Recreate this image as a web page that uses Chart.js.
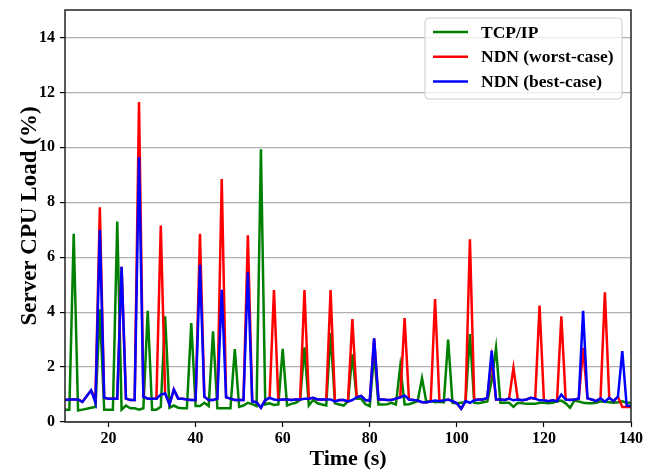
<!DOCTYPE html>
<html>
<head>
<meta charset="utf-8">
<script src="https://cdn.jsdelivr.net/npm/chart.js@4.4.1/dist/chart.umd.min.js"></script>
<style>
  html, body { margin: 0; padding: 0; background: #fff; }
  #wrap { width: 659px; height: 473px; }
</style>
</head>
<body>
<div id="wrap"><canvas id="c" width="659" height="473"></canvas></div>
<script>
const seriesLabels = ["TCP/IP", "NDN (worst-case)", "NDN (best-case)"];
const seriesColors = ["#008000", "#ff0000", "#0000ff"];
const xTicks = [20, 40, 60, 80, 100, 120, 140];
const yTicks = [0, 2, 4, 6, 8, 10, 12, 14];

const time = [10,11,12,13,14,15,16,17,18,19,20,21,22,23,24,25,26,27,28,29,
30,31,32,33,34,35,36,37,38,39,40,41,42,43,44,45,46,47,48,49,
50,51,52,53,54,55,56,57,58,59,60,61,62,63,64,65,66,67,68,69,
70,71,72,73,74,75,76,77,78,79,80,81,82,83,84,85,86,87,88,89,
90,91,92,93,94,95,96,97,98,99,100,101,102,103,104,105,106,107,108,109,
110,111,112,113,114,115,116,117,118,119,120,121,122,123,124,125,126,127,128,129,
130,131,132,133,134,135,136,137,138,139,140];

const tcpip = [0.45,0.45,6.85,0.42,0.45,0.48,0.52,0.55,4.1,0.45,0.45,0.45,7.3,0.45,0.6,0.5,0.5,0.45,0.5,4.05,
0.45,0.45,0.55,3.85,0.52,0.6,0.52,0.5,0.5,3.6,0.58,0.58,0.7,0.58,3.3,0.5,0.5,0.5,0.5,2.65,
0.55,0.6,0.7,0.65,0.58,9.93,0.64,0.68,0.62,0.64,2.66,0.6,0.66,0.7,0.8,2.72,0.6,0.8,0.68,0.64,
0.6,3.24,0.68,0.64,0.6,0.76,2.46,0.85,0.85,0.65,0.58,2.5,0.64,0.64,0.65,0.7,0.64,2.03,0.64,0.65,
0.7,0.76,1.6,0.72,0.78,0.72,0.74,0.72,3.0,0.7,0.68,0.7,0.72,3.2,0.7,0.68,0.72,0.75,1.5,2.7,
0.7,0.7,0.7,0.55,0.7,0.68,0.66,0.66,0.66,0.7,0.7,0.68,0.7,0.75,0.78,0.68,0.52,0.78,0.75,0.7,
0.68,0.68,0.7,0.75,0.74,0.72,0.7,0.72,0.75,0.7,0.7];

const ndnWorst = [0.8,0.82,0.82,0.82,0.73,0.95,1.15,0.85,7.82,0.88,0.85,0.85,0.85,5.65,0.85,0.8,0.8,11.65,0.92,0.85,
0.85,0.85,7.15,1.04,0.64,1.18,0.85,0.85,0.82,0.8,0.8,6.85,0.92,0.8,0.8,0.85,8.85,0.9,0.85,0.8,
0.8,0.8,6.8,0.75,0.72,0.52,0.8,0.88,4.8,0.8,0.82,0.82,0.8,0.82,0.82,4.8,0.85,0.88,0.82,0.82,
0.82,4.8,0.75,0.8,0.8,0.75,3.75,0.9,0.95,0.8,0.78,3.05,0.82,0.82,0.8,0.8,0.85,0.9,3.78,0.82,
0.8,0.78,0.72,0.72,0.75,4.48,0.76,0.78,0.82,0.76,0.68,0.48,0.76,6.65,0.79,0.82,0.82,0.88,2.3,0.82,
0.82,0.8,0.85,1.97,0.82,0.79,0.82,0.88,0.85,4.24,0.79,0.76,0.79,0.76,3.85,0.82,0.8,0.82,0.85,2.7,
0.86,0.82,0.76,0.86,4.72,0.88,0.76,0.92,0.55,0.55,0.55];

const ndnBest = [0.8,0.82,0.82,0.82,0.73,0.95,1.15,0.7,7.0,0.88,0.85,0.85,0.85,5.65,0.85,0.8,0.8,9.65,0.92,0.85,
0.85,0.85,1.0,1.04,0.64,1.18,0.85,0.85,0.82,0.8,0.8,5.72,0.92,0.8,0.8,0.85,4.81,0.9,0.85,0.8,
0.8,0.8,5.45,0.75,0.72,0.52,0.8,0.88,0.82,0.8,0.82,0.82,0.8,0.82,0.82,0.85,0.85,0.88,0.82,0.82,
0.82,0.82,0.75,0.8,0.8,0.75,0.8,0.9,0.95,0.8,0.78,3.05,0.82,0.82,0.8,0.8,0.85,0.9,0.97,0.82,
0.8,0.78,0.72,0.72,0.75,0.78,0.76,0.78,0.82,0.76,0.68,0.48,0.76,0.7,0.79,0.82,0.82,0.88,2.6,0.82,
0.82,0.8,0.85,0.79,0.82,0.79,0.82,0.88,0.85,0.79,0.79,0.76,0.79,0.76,1.0,0.82,0.8,0.82,0.85,4.05,
0.86,0.82,0.76,0.86,0.74,0.88,0.76,0.92,2.58,0.6,0.58];

const seriesValues = [tcpip, ndnWorst, ndnBest];
const FONT = "'Liberation Serif', 'Times New Roman', Times, serif";

const datasets = seriesValues.map((vals, i) => ({
  label: seriesLabels[i],
  data: time.map((t, k) => ({ x: t, y: vals[k] })),
  borderColor: seriesColors[i],
  backgroundColor: seriesColors[i],
  borderWidth: 2.5,
  pointRadius: 0,
  tension: 0,
  fill: false,
  order: 3 - i
}));

const framePlugin = {
  id: 'frame',
  afterDraw(chart) {
    const ctx = chart.ctx;
    const a = chart.chartArea;
    ctx.save();
    ctx.strokeStyle = '#222';
    ctx.lineWidth = 1.5;
    ctx.strokeRect(a.left, a.top, a.right - a.left, a.bottom - a.top);
    // legend box
    const bx = a.right - 206, by = a.top + 8, bw = 197, bh = 81, r = 4;
    ctx.beginPath();
    ctx.moveTo(bx + r, by);
    ctx.lineTo(bx + bw - r, by);
    ctx.quadraticCurveTo(bx + bw, by, bx + bw, by + r);
    ctx.lineTo(bx + bw, by + bh - r);
    ctx.quadraticCurveTo(bx + bw, by + bh, bx + bw - r, by + bh);
    ctx.lineTo(bx + r, by + bh);
    ctx.quadraticCurveTo(bx, by + bh, bx, by + bh - r);
    ctx.lineTo(bx, by + r);
    ctx.quadraticCurveTo(bx, by, bx + r, by);
    ctx.closePath();
    ctx.fillStyle = 'rgba(255,255,255,0.8)';
    ctx.fill();
    ctx.strokeStyle = '#cccccc';
    ctx.lineWidth = 1;
    ctx.stroke();
    ctx.font = 'bold 17.5px ' + FONT;
    ctx.textBaseline = 'middle';
    ctx.textAlign = 'left';
    chart.data.datasets.forEach((ds, i) => {
      const y = by + 14 + i * 24.7;
      ctx.strokeStyle = ds.borderColor;
      ctx.lineWidth = 2.5;
      ctx.beginPath();
      ctx.moveTo(bx + 8, y);
      ctx.lineTo(bx + 43, y);
      ctx.stroke();
      ctx.fillStyle = '#000';
      ctx.fillText(ds.label, bx + 56, y + 1);
    });
    ctx.restore();
  }
};

new Chart(document.getElementById('c'), {
  type: 'line',
  data: { datasets },
  plugins: [framePlugin],
  options: {
    responsive: false,
    devicePixelRatio: 1,
    animation: false,
    events: [],
    layout: { padding: { left: 0, top: 10, right: 28, bottom: 0 } },
    plugins: { legend: { display: false }, tooltip: { enabled: false } },
    scales: {
      x: {
        type: 'linear',
        min: 10,
        max: 140,
        afterBuildTicks: (s) => { s.ticks = xTicks.map(v => ({ value: v })); },
        afterFit: (s) => { s.height = 51; s.paddingLeft = 0; s.paddingRight = 0; },
        border: { display: false },
        grid: { drawOnChartArea: false, drawTicks: true, tickLength: 5, tickColor: '#000', tickWidth: 1.2 },
        ticks: { color: '#000', padding: 2, maxRotation: 0, font: { family: FONT, size: 16, weight: 'bold' } },
        title: { display: true, text: 'Time (s)', color: '#000', padding: { top: 0, bottom: 0 },
                 font: { family: FONT, size: 22, weight: 'bold' } }
      },
      y: {
        type: 'linear',
        min: 0,
        max: 15,
        afterBuildTicks: (s) => { s.ticks = yTicks.map(v => ({ value: v })); },
        afterFit: (s) => { s.width = 65; s.paddingTop = 0; s.paddingBottom = 0; },
        border: { display: false },
        grid: { color: '#b0b0b0', lineWidth: 1.2, drawTicks: true, tickLength: 5, tickColor: '#000', tickWidth: 1.2 },
        ticks: { color: '#000', padding: 5, font: { family: FONT, size: 16, weight: 'bold' } },
        title: { display: true, text: 'Server CPU Load (%)', color: '#000', padding: { top: 16, bottom: 0 },
                 font: { family: FONT, size: 23, weight: 'bold' } }
      }
    }
  }
});
</script>
</body>
</html>
